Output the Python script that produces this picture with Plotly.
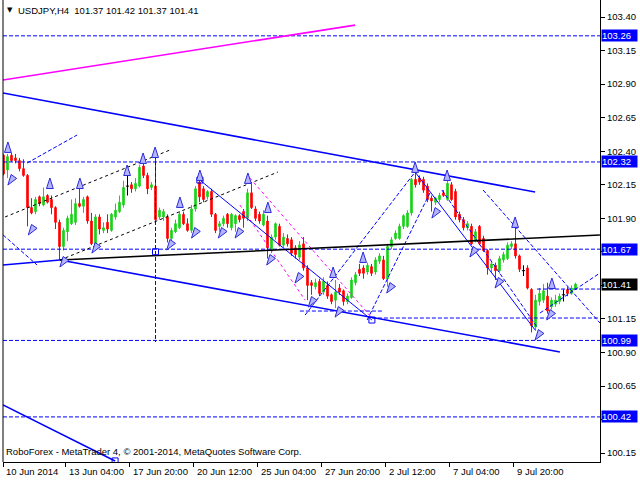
import plotly.graph_objects as go

FONT = "Liberation Sans, Arial, sans-serif"

# ---------------- candle data (USDJPY H4) ----------------
opens = [102.37, 102.26, 102.37, 102.35, 102.33, 102.27, 102.22, 101.98, 101.95, 102.06,
         102.00, 102.07, 102.04, 101.98, 101.87, 101.69, 101.80, 101.86, 101.87, 102.01,
         101.99, 102.06, 101.88, 101.71, 101.91, 101.81, 101.87, 101.81, 101.91, 101.95,
         102.00, 102.14, 102.15, 102.12, 102.14, 102.29, 102.22, 102.13, 102.14, 101.91,
         101.91, 101.91, 101.75, 101.80, 101.83, 101.93, 101.86, 101.81, 101.97, 102.17,
         102.12, 102.06, 102.10, 101.93, 101.84, 101.86, 101.93, 101.83, 101.86, 101.92,
         101.95, 101.90, 102.09, 101.97, 101.93, 101.85, 101.88, 101.66, 101.76, 101.84,
         101.70, 101.75, 101.74, 101.68, 101.61, 101.71, 101.53, 101.42, 101.39, 101.43,
         101.35, 101.40, 101.33, 101.29, 101.38, 101.36, 101.28, 101.31, 101.42, 101.52,
         101.53, 101.50, 101.54, 101.50, 101.58, 101.59, 101.45, 101.69, 101.75, 101.75,
         101.84, 101.84, 101.94, 102.19, 102.20, 102.19, 102.14, 102.05, 102.02, 102.04,
         102.09, 102.04, 102.15, 102.10, 101.93, 101.89, 101.83, 101.84, 101.73, 101.84,
         101.75, 101.66, 101.53, 101.55, 101.51, 101.59, 101.60, 101.69, 101.71, 101.62,
         101.51, 101.53, 101.37, 101.09, 101.28, 101.29, 101.32, 101.24, 101.26, 101.28,
         101.33, 101.37, 101.34, 101.37]
highs = [102.38, 102.38, 102.39, 102.38, 102.35, 102.34, 102.23, 102.05, 102.06, 102.07,
         102.13, 102.08, 102.07, 101.99, 101.89, 101.83, 101.92, 102.04, 102.05, 102.12,
         102.06, 102.07, 101.94, 101.93, 101.93, 101.87, 101.93, 101.94, 102.01, 102.07,
         102.18, 102.22, 102.17, 102.20, 102.30, 102.31, 102.24, 102.17, 102.36, 101.98,
         101.97, 101.93, 101.83, 101.89, 101.95, 101.95, 101.90, 102.00, 102.14, 102.19,
         102.14, 102.11, 102.12, 101.94, 101.88, 101.92, 101.94, 101.94, 101.93, 101.93,
         101.97, 102.12, 102.16, 101.99, 101.95, 101.96, 101.92, 101.78, 101.87, 101.86,
         101.79, 101.78, 101.76, 101.70, 101.73, 101.76, 101.55, 101.44, 101.45, 101.45,
         101.46, 101.43, 101.34, 101.44, 101.41, 101.37, 101.34, 101.46, 101.50, 101.56,
         101.55, 101.57, 101.56, 101.61, 101.64, 101.62, 101.71, 101.76, 101.81, 101.86,
         101.93, 101.96, 102.20, 102.25, 102.22, 102.21, 102.16, 102.07, 102.06, 102.09,
         102.11, 102.19, 102.17, 102.12, 101.95, 101.91, 101.88, 101.86, 101.82, 101.85,
         101.77, 101.67, 101.58, 101.57, 101.62, 101.65, 101.72, 101.73, 101.84, 101.63,
         101.55, 101.55, 101.38, 101.33, 101.38, 101.41, 101.42, 101.31, 101.33, 101.34,
         101.37, 101.39, 101.40, 101.42]
lows = [102.22, 102.20, 102.32, 102.31, 102.25, 102.21, 101.84, 101.93, 101.93, 101.99,
        101.99, 102.01, 101.93, 101.82, 101.59, 101.66, 101.73, 101.85, 101.85, 101.98,
        101.94, 101.86, 101.70, 101.70, 101.78, 101.79, 101.79, 101.80, 101.89, 101.94,
        101.98, 102.07, 102.09, 102.10, 102.13, 102.20, 102.08, 102.11, 101.85, 101.89,
        101.88, 101.72, 101.72, 101.79, 101.82, 101.85, 101.80, 101.79, 101.95, 102.02,
        102.02, 102.04, 101.91, 101.79, 101.80, 101.84, 101.83, 101.81, 101.80, 101.87,
        101.83, 101.88, 101.97, 101.88, 101.86, 101.84, 101.60, 101.64, 101.74, 101.69,
        101.68, 101.69, 101.62, 101.60, 101.59, 101.51, 101.29, 101.33, 101.37, 101.32,
        101.33, 101.30, 101.26, 101.23, 101.33, 101.25, 101.26, 101.30, 101.40, 101.47,
        101.45, 101.48, 101.47, 101.48, 101.56, 101.44, 101.39, 101.67, 101.74, 101.74,
        101.82, 101.83, 101.92, 102.13, 102.15, 102.09, 102.02, 101.95, 102.00, 102.02,
        102.06, 102.03, 102.03, 101.89, 101.87, 101.81, 101.81, 101.70, 101.72, 101.70,
        101.65, 101.48, 101.50, 101.44, 101.49, 101.57, 101.59, 101.67, 101.60, 101.50,
        101.47, 101.37, 101.05, 101.06, 101.25, 101.27, 101.19, 101.22, 101.24, 101.26,
        101.28, 101.32, 101.33, 101.37]
closes = [102.23, 102.36, 102.33, 102.33, 102.27, 102.22, 101.98, 101.94, 102.04, 102.01,
          102.06, 102.02, 101.98, 101.87, 101.69, 101.81, 101.90, 101.93, 102.01, 101.99,
          102.04, 101.88, 101.71, 101.91, 101.82, 101.83, 101.82, 101.93, 101.96, 102.02,
          102.13, 102.14, 102.12, 102.16, 102.28, 102.22, 102.12, 102.15, 101.89, 101.96,
          101.95, 101.75, 101.81, 101.86, 101.93, 101.86, 101.81, 101.97, 102.12, 102.06,
          102.04, 102.10, 101.93, 101.81, 101.86, 101.90, 101.86, 101.93, 101.92, 101.89,
          101.90, 102.09, 101.98, 101.90, 101.88, 101.93, 101.68, 101.76, 101.86, 101.70,
          101.76, 101.71, 101.64, 101.63, 101.70, 101.53, 101.40, 101.40, 101.42, 101.34,
          101.43, 101.32, 101.28, 101.35, 101.35, 101.28, 101.32, 101.44, 101.48, 101.49,
          101.49, 101.55, 101.49, 101.59, 101.62, 101.45, 101.69, 101.74, 101.79, 101.84,
          101.92, 101.94, 102.19, 102.15, 102.17, 102.11, 102.04, 102.03, 102.05, 102.07,
          102.07, 102.16, 102.04, 101.91, 101.89, 101.83, 101.86, 101.71, 101.80, 101.71,
          101.66, 101.53, 101.56, 101.51, 101.60, 101.63, 101.70, 101.71, 101.62, 101.52,
          101.51, 101.38, 101.10, 101.29, 101.34, 101.36, 101.21, 101.29, 101.29, 101.32,
          101.33, 101.34, 101.38, 101.41]

# ---------------- axis values ----------------
price_ticks = [103.40, 103.15, 102.90, 102.65, 102.40, 102.15, 101.90, 101.65,
               101.40, 101.15, 100.90, 100.65, 100.40, 100.15]
price_tick_text = ["103.40", "103.15", "102.90", "102.65", "102.40", "102.15", "101.90", "",
                   "", "101.15", "100.90", "100.65", "", "100.15"]
level_prices = [103.26, 102.32, 101.67, 100.99, 100.42]
last_price = 101.41
date_labels = ["10 Jun 2014", "13 Jun 04:00", "17 Jun 20:00", "20 Jun 12:00",
               "25 Jun 04:00", "27 Jun 20:00", "2 Jul 12:00", "7 Jul 04:00", "9 Jul 20:00"]
date_bars = [-0.1, 15.5, 31.5, 47.5, 63.5, 79.5, 95.5, 111.5, 127.5]
header_text = "USDJPY,H4\u00a0\u00a0101.37 101.42 101.37 101.41"
footer_text = "RoboForex - MetaTrader 4, \u00a9 2001-2014, MetaQuotes Software Corp."

# ---------------- analysis objects (bar0, price0, bar1, price1) ----------------
blue_solid = [(-0.125, 102.834, 132.9, 102.096), (14.1, 101.589, 139.1, 100.904),
              (-0.125, 101.552, 14.1, 101.589), (-0.125, 100.509, 27.9, 100.092)]
blue_thin = [(49.1, 102.185, 92.1, 101.142), (102.9, 102.245, 132.9, 101.068)]
blue_dashed = [(5.9, 102.312, 18.4, 102.521), (75.4, 101.179, 102.9, 102.245),
               (90.9, 101.142, 106.6, 102.089), (109.6, 102.111, 133.4, 101.090),
               (119.9, 102.111, 149.1, 101.120), (134.1, 101.194, 149.1, 101.492),
               (-0.1, 101.776, 8.4, 101.552),
               (74.1, 101.209, 94.6, 101.209), (92.1, 101.157, 149.1, 101.157),
               (133.4, 101.373, 149.1, 101.373), (38.0, 102.372, 38.0, 100.978)]
black_solid = [(14.1, 101.589, 149.1, 101.776)]
black_dashed = [(0.4, 101.910, 41.6, 102.409), (14.1, 101.589, 68.6, 102.245)]
magenta_solid = [(-0.125, 102.931, 87.9, 103.340)]
magenta_dashed = [(61.6, 102.200, 92.1, 101.157), (59.1, 101.999, 75.4, 101.291)]

up_arrow_bars = [1.1, 11.6, 19.1, 30.9, 34.9, 37.9, 44.1, 49.1, 61.1, 66.1, 82.4, 89.9,
                 102.9, 110.9, 127.9, 137.1]
up_arrow_prices = [102.469, 102.200, 102.200, 102.297, 102.387, 102.431, 102.059, 102.260,
                   102.238, 102.021, 101.537, 101.649, 102.320, 102.260, 101.910, 101.455]
down_arrow_bars = [1.1, 6.2, 14.1, 22.1, 40.8, 47.0, 53.7, 57.9, 65.8, 72.9, 76.2, 82.9,
                   95.8, 107.1, 116.6, 122.9, 135.8, 132.9]
down_arrow_prices = [102.148, 101.776, 101.537, 101.641, 101.664, 101.753, 101.753, 101.753,
                     101.552, 101.418, 101.239, 101.164, 101.343, 101.902, 101.612, 101.381,
                     101.142, 100.993]
square_bars = [49.1, 92.1, 38.0, 27.9]
square_prices = [102.185, 101.142, 101.651, 100.092]

# ---------------- styles ----------------
UP = "#19d219"
DN = "#ff0000"
BLUE = "#0000ff"
X_RANGE = [-0.125, 149.125]
Y_RANGE = [100.084, 103.527]

fig = go.Figure()

n = len(opens)
bars = list(range(n))
norm = [i for i in bars if opens[i] != closes[i]]
doji = [i for i in bars if opens[i] == closes[i]]

fig.add_trace(go.Candlestick(
    x=[bars[i] for i in norm], open=[opens[i] for i in norm], high=[highs[i] for i in norm],
    low=[lows[i] for i in norm], close=[closes[i] for i in norm],
    increasing=dict(line=dict(color=UP, width=1), fillcolor=UP),
    decreasing=dict(line=dict(color=DN, width=1), fillcolor=DN),
    whiskerwidth=0, hoverinfo="skip", showlegend=False))

# doji candles drawn in black
dx, dy = [], []
for i in doji:
    dx += [bars[i], bars[i], None, bars[i] - 0.4, bars[i] + 0.4, None]
    dy += [lows[i], highs[i], None, opens[i], closes[i], None]
fig.add_trace(go.Scatter(x=dx, y=dy, mode="lines", line=dict(color="black", width=1),
                         hoverinfo="skip", showlegend=False))


def seg_trace(segs, color, width, dash):
    xs, ys = [], []
    for (a, b, c, d) in segs:
        xs += [a, c, None]
        ys += [b, d, None]
    fig.add_trace(go.Scatter(x=xs, y=ys, mode="lines",
                             line=dict(color=color, width=width, dash=dash),
                             hoverinfo="skip", showlegend=False))


# full-width levels
lv = [(X_RANGE[0], p, X_RANGE[1], p) for p in level_prices]
seg_trace(lv, BLUE, 1, "4px,2px")
seg_trace(blue_dashed, BLUE, 1, "4px,2px")
seg_trace(magenta_dashed, "#ff00ff", 1, "3px,3px")
seg_trace(black_dashed, "black", 1, "3px,3px")
seg_trace(blue_solid, BLUE, 1.6, "solid")
seg_trace(blue_thin, BLUE, 1, "solid")
seg_trace(black_solid, "black", 1.6, "solid")
seg_trace(magenta_solid, "#ff00ff", 1.6, "solid")

fig.add_trace(go.Scatter(x=square_bars, y=square_prices, mode="markers",
                         marker=dict(symbol="square-open", size=6, color=BLUE, line=dict(width=1)),
                         hoverinfo="skip", showlegend=False))
fig.add_trace(go.Scatter(x=up_arrow_bars, y=up_arrow_prices, mode="markers",
                         marker=dict(symbol="arrow", size=11, color="#b4b4ff", angle=0,
                                     line=dict(color="#2a2ad8", width=1)),
                         hoverinfo="skip", showlegend=False))
fig.add_trace(go.Scatter(x=down_arrow_bars, y=down_arrow_prices, mode="markers",
                         marker=dict(symbol="arrow", size=11, color="#b4b4ff", angle=215,
                                     line=dict(color="#2a2ad8", width=1)),
                         hoverinfo="skip", showlegend=False))

annotations = []
for lab, b in zip(date_labels, date_bars):
    annotations.append(dict(x=b, xref="x", y=0, yref="paper", text=lab, showarrow=False,
                            xanchor="left", yanchor="top", xshift=1, yshift=-2,
                            font=dict(family=FONT, size=9.5, color="black")))
for p in level_prices:
    annotations.append(dict(x=1, xref="paper", y=p, yref="y", text=f"{p:.2f}", showarrow=False,
                            xanchor="left", yanchor="middle", xshift=1, width=35, height=11,
                            bgcolor=BLUE, borderpad=0, align="left",
                            font=dict(family=FONT, size=9.5, color="white")))
annotations.append(dict(x=1, xref="paper", y=last_price, yref="y", text=f"{last_price:.2f}",
                        showarrow=False, xanchor="left", yanchor="middle", xshift=1, width=35,
                        height=11, bgcolor="black", borderpad=0, align="left",
                        font=dict(family=FONT, size=9.5, color="white")))
annotations.append(dict(x=0, xref="paper", y=1, yref="paper", text="\u25bc", showarrow=False,
                        xanchor="left", yanchor="top", xshift=2, yshift=-4,
                        font=dict(family="DejaVu Sans", size=7, color="black")))
annotations.append(dict(x=0, xref="paper", y=1, yref="paper", text=header_text, showarrow=False,
                        xanchor="left", yanchor="top", xshift=13, yshift=-3,
                        font=dict(family=FONT, size=9.5, color="black")))
annotations.append(dict(x=0, xref="paper", y=0, yref="paper", text=footer_text, showarrow=False,
                        xanchor="left", yanchor="bottom", xshift=1, yshift=3,
                        font=dict(family=FONT, size=9.5, color="black")))

fig.update_layout(
    width=640, height=480,
    margin=dict(l=3, r=40, t=0, b=18),
    paper_bgcolor="white", plot_bgcolor="white",
    showlegend=False, boxgap=0.45,
    annotations=annotations,
    shapes=[dict(type="line", xref="paper", yref="paper", x0=0, x1=0, y0=0, y1=1,
                 line=dict(color="black", width=1))],
    xaxis=dict(range=X_RANGE, rangeslider=dict(visible=False), showgrid=False, zeroline=False,
               showline=True, linecolor="black", linewidth=1,
               tickmode="array", tickvals=date_bars, ticktext=[""] * len(date_bars),
               ticks="outside", ticklen=4, tickcolor="black"),
    yaxis=dict(range=Y_RANGE, side="right", showgrid=False, zeroline=False,
               showline=True, linecolor="black", linewidth=1,
               tickmode="array", tickvals=price_ticks, ticktext=price_tick_text,
               ticks="outside", ticklen=4, tickcolor="black",
               tickfont=dict(family=FONT, size=9.5, color="black")),
)

fig.write_html("out.html", config={"displayModeBar": False},
               post_script="document.body.style.margin='0';document.body.style.overflow='hidden';")
